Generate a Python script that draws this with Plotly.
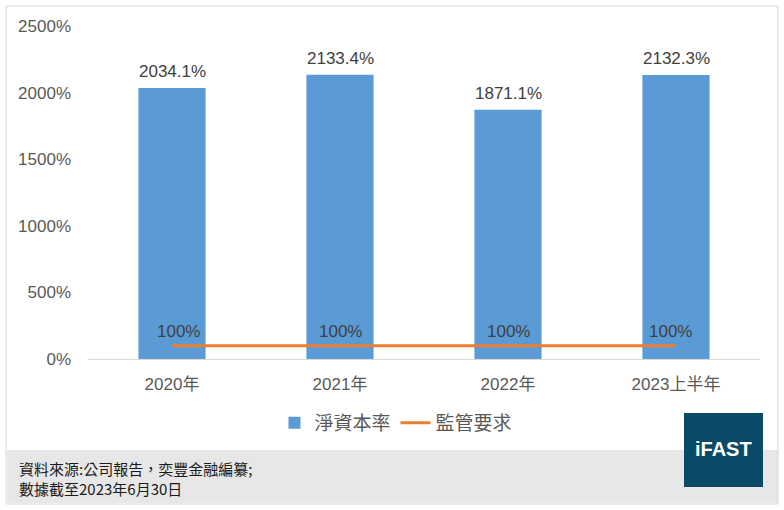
import plotly.graph_objects as go

categories = ["2020年", "2021年", "2022年", "2023上半年"]
net_capital_ratio = [2034.1, 2133.4, 1871.1, 2132.3]
regulatory_req = [100, 100, 100, 100]
y_ticks = [0, 500, 1000, 1500, 2000, 2500]
y_tick_labels = ["0%", "500%", "1000%", "1500%", "2000%", "2500%"]

W, H = 784, 510
L, R, T, B = 88, 24, 26, 151
pw, ph = W - L - R, H - T - B

def px(x):
    return (x - L) / pw

def py(y):
    return (H - B - y) / ph

num_font = "Liberation Sans, Arial, sans-serif"
cjk_font = "Noto Sans CJK TC, Noto Sans CJK SC, sans-serif"
lbl_color = "#404040"

fig = go.Figure()
fig.add_trace(go.Bar(
    x=categories, y=net_capital_ratio, name="淨資本率",
    marker=dict(color="#5B9BD5", line=dict(width=0)),
    width=0.4,
))
fig.add_trace(go.Scatter(
    x=categories, y=regulatory_req, name="監管要求", mode="lines",
    line=dict(color="#ED7D31", width=3),
))

shapes = [
    dict(type="rect", xref="paper", yref="paper",
         x0=px(7), x1=px(778), y0=py(503), y1=py(450),
         fillcolor="#E7E7E7", line=dict(width=0), layer="below"),
    dict(type="rect", xref="paper", yref="paper",
         x0=px(6), x1=px(778), y0=py(504), y1=py(6),
         fillcolor="rgba(0,0,0,0)", line=dict(color="#D9D9D9", width=1)),
    dict(type="rect", xref="paper", yref="paper",
         x0=px(684), x1=px(763), y0=py(487), y1=py(413),
         fillcolor="#0B4A66", line=dict(width=0)),
]

annotations = []
for c, v in zip(categories, net_capital_ratio):
    annotations.append(dict(
        x=c, y=v, xref="x", yref="y", text=f"{v:.1f}%", showarrow=False,
        yanchor="bottom", yshift=5,
        font=dict(size=17, color=lbl_color, family=num_font)))
req_xshift = [6, 0, 0, -6]
for c, v, s in zip(categories, regulatory_req, req_xshift):
    annotations.append(dict(
        x=c, y=v, xref="x", yref="y", text=f"{v}%", showarrow=False,
        yanchor="bottom", yshift=3, xshift=s,
        font=dict(size=17, color=lbl_color, family=num_font)))

annotations += [
    dict(text="資料來源:公司報告，奕豐金融編纂;<br>數據截至2023年6月30日",
         xref="paper", yref="paper", x=px(17), y=py(456),
         xanchor="left", yanchor="top", align="left", showarrow=False,
         font=dict(size=15, color="#1a1a1a", family=cjk_font)),
    dict(text="<b>iFAST</b>", xref="paper", yref="paper",
         x=px(723.5), y=py(449), xanchor="center", yanchor="middle",
         showarrow=False, font=dict(size=20, color="white", family=num_font)),
]

fig.update_layout(
    width=W, height=H,
    margin=dict(l=L, r=R, t=T, b=B),
    paper_bgcolor="white", plot_bgcolor="white",
    showlegend=True,
    legend=dict(orientation="h", x=px(396), xanchor="center",
                y=py(423), yanchor="middle",
                font=dict(size=19, color="#595959", family=cjk_font),
                bgcolor="rgba(0,0,0,0)"),
    shapes=shapes, annotations=annotations,
)
fig.update_xaxes(
    range=[-0.5, 3.5], showline=True, linecolor="#D9D9D9", linewidth=1,
    ticks="", showgrid=False, ticklabelstandoff=10,
    tickfont=dict(size=17, color="#595959", family=num_font + ", " + cjk_font),
)
fig.update_yaxes(
    range=[0, 2500], tickvals=y_ticks, ticktext=y_tick_labels,
    showgrid=False, zeroline=False, showline=False, ticks="",
    tickfont=dict(size=17, color="#595959", family=num_font),
    ticklabelstandoff=16,
)

fig.write_html("out.html")
